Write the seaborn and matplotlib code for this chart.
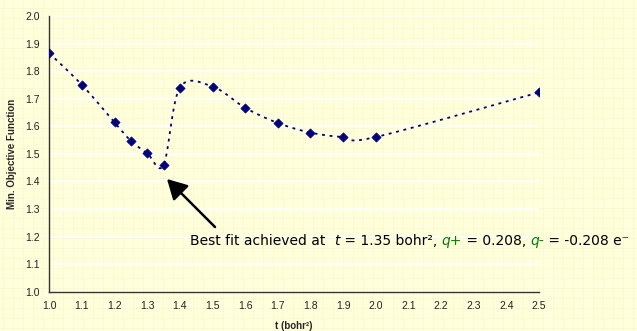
import numpy as np
import pandas as pd
import matplotlib
matplotlib.use("Agg")
import matplotlib.pyplot as plt
from matplotlib.lines import Line2D
import seaborn as sns

# ---- data ----
t_values = [1.0, 1.1, 1.2, 1.25, 1.3, 1.35, 1.4, 1.5, 1.6, 1.7, 1.8, 1.9, 2.0, 2.5]
objective = [1.865, 1.750, 1.614, 1.547, 1.502, 1.460, 1.740, 1.744, 1.667, 1.612,
             1.577, 1.561, 1.561, 1.723]
x_ticks = [1.0, 1.1, 1.2, 1.3, 1.4, 1.5, 1.6, 1.7, 1.8, 1.9, 2.0, 2.1, 2.2, 2.3, 2.4, 2.5]
y_ticks = [1.0, 1.1, 1.2, 1.3, 1.4, 1.5, 1.6, 1.7, 1.8, 1.9, 2.0]
y_label = "Min. Objective Function"
x_label = "t (bohr²)"

BG = "#FFFFDC"
NAVY = "#000080"

sns.set_theme(style="white")
plt.rcParams["font.family"] = ["Liberation Sans", "DejaVu Sans"]

W, H = 637, 331
fig = plt.figure(figsize=(W / 100, H / 100), dpi=100, facecolor=BG)

# graph-paper background
for xp in np.arange(3, W, 10):
    fig.add_artist(Line2D([xp / W, xp / W], [0, 1], transform=fig.transFigure,
                          color="#F7F7CF", lw=0.5, zorder=-10))
for yp in np.arange(3, H, 10):
    fig.add_artist(Line2D([0, 1], [yp / H, yp / H], transform=fig.transFigure,
                          color="#F7F7CF", lw=0.5, zorder=-10))

left, right = 49.3 / W, 539.0 / W
bottom, top = 1 - 291.7 / H, 1 - 16.0 / H
ax = fig.add_axes([left, bottom, right - left, top - bottom])
ax.set_facecolor("none")

# smoothed (Excel-style Bezier) curve through the points, in pixel space
sx, sy = 326.0, 275.7
P = np.column_stack([(np.array(t_values) - 1.0) * sx, np.array(objective) * sy])
n = len(P)
curve = []
for i in range(n - 1):
    p0 = P[i - 1] if i > 0 else P[i]
    p1 = P[i]
    p2 = P[i + 1]
    p3 = P[i + 2] if i + 2 < n else P[i + 1]
    b1 = p1 + (p2 - p0) / 6.0
    b2 = p2 - (p3 - p1) / 6.0
    u = np.linspace(0, 1, 40)[:, None]
    seg = ((1 - u) ** 3) * p1 + 3 * ((1 - u) ** 2) * u * b1 + 3 * (1 - u) * u ** 2 * b2 + u ** 3 * p2
    curve.append(seg if i == 0 else seg[1:])
curve = np.vstack(curve)
curve_df = pd.DataFrame({"t": curve[:, 0] / sx + 1.0, "f": curve[:, 1] / sy})
pts_df = pd.DataFrame({"t": t_values, "f": objective})

sns.lineplot(data=curve_df, x="t", y="f", sort=False, ax=ax, color=NAVY,
             lw=1.3, linestyle=(0, (1.6, 2.6)), zorder=3)
sns.scatterplot(data=pts_df, x="t", y="f", ax=ax, marker="D", s=22, color=NAVY,
                edgecolor=NAVY, linewidth=0.5, zorder=4)

ax.set_xlim(1.0, 2.5)
ax.set_ylim(1.0, 2.0)
ax.set_xticks(x_ticks)
ax.set_yticks(y_ticks)
ax.set_xticklabels([f"{v:.1f}" for v in x_ticks])
ax.set_yticklabels([f"{v:.1f}" for v in y_ticks])
ax.tick_params(axis="x", direction="in", length=4, width=1, color="#333333",
               labelsize=7.5, labelcolor="#222222", pad=7)
ax.tick_params(axis="y", direction="inout", length=6, width=1, color="#333333",
               labelsize=7.5, labelcolor="#222222", pad=4)
ax.yaxis.grid(True, color="white", lw=1.2, zorder=0)
ax.xaxis.grid(False)
for s in ["top", "right"]:
    ax.spines[s].set_visible(False)
for s in ["left", "bottom"]:
    ax.spines[s].set_color("#333333")
    ax.spines[s].set_linewidth(1.0)

ax.set_xlabel(x_label, fontsize=7, fontweight="bold", labelpad=7)
ax.set_ylabel(y_label, fontsize=7, fontweight="bold", labelpad=6)

# arrow
ax.annotate("", xy=(167 / W, 1 - 179 / H), xycoords="figure fraction",
            xytext=(215 / W, 1 - 227 / H), textcoords="figure fraction",
            arrowprops=dict(arrowstyle="-|>,head_length=1.0,head_width=0.55",
                        color="black", lw=1.8, shrinkA=0, shrinkB=0))

# annotation text built from pieces
pieces = [
    ("Best fit achieved at  ", "black", "normal"),
    ("t", "black", "italic"),
    (" = 1.35 bohr², ", "black", "normal"),
    ("q+", "#008000", "italic"),
    (" = 0.208, ", "black", "normal"),
    ("q-", "#008000", "italic"),
    (" = -0.208 e⁻", "black", "normal"),
]
fig.canvas.draw()
renderer = fig.canvas.get_renderer()
xpos = 190.0
ybase = H - 245.0
for txt, col, sty in pieces:
    tt = fig.text(xpos / W, ybase / H, txt, color=col, fontstyle=sty, fontsize=10,
                  family=["DejaVu Sans"], va="baseline", ha="left")
    bb = tt.get_window_extent(renderer=renderer)
    xpos = bb.x1

fig.savefig("out.png", dpi=100, facecolor=BG)
